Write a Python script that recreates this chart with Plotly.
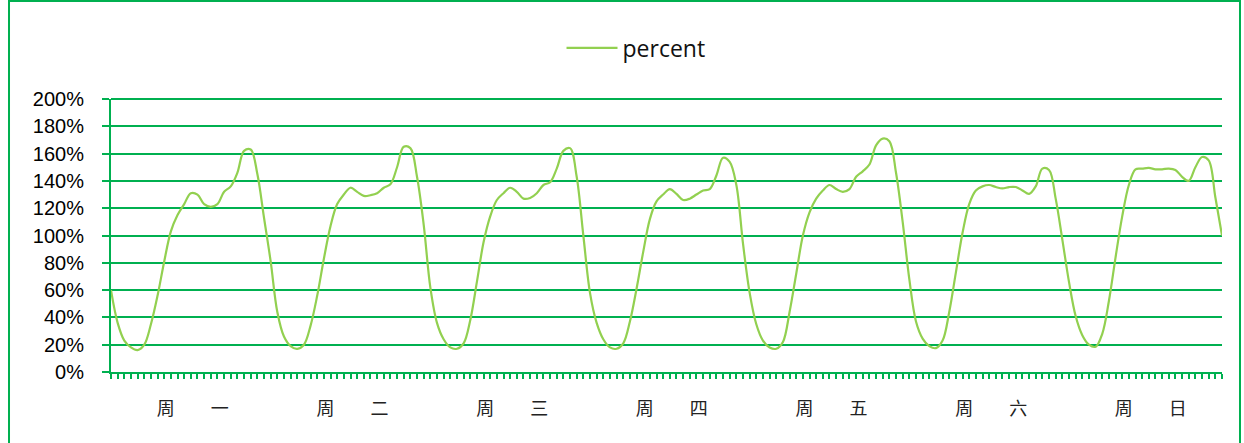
import plotly.graph_objects as go

# Hourly load ratio over one week (7 days x 24 hours), in percent
day_labels = ["周\u3000\u3000一", "周\u3000\u3000二", "周\u3000\u3000三", "周\u3000\u3000四",
              "周\u3000\u3000五", "周\u3000\u3000六", "周\u3000\u3000日"]

mon = [60, 36, 23, 18, 16, 20, 35, 56, 81, 103, 115, 123,
       131, 130, 123, 121, 123, 132, 136, 146, 162, 163, 145, 113]
tue = [81, 44, 26, 19, 17, 20, 34, 56, 83, 107, 123, 130,
       135, 132, 129, 129.5, 131, 135, 137.5, 150, 165, 164, 143, 108]
wed = [62, 36, 24, 18, 17, 21, 38, 66, 95, 114, 126, 131,
       135, 132, 127, 127.5, 131, 137, 139, 149, 162, 164, 143, 100]
thu = [58, 36, 24, 18, 17, 21, 37, 61, 88, 112, 125, 130,
       134, 130.5, 126, 127, 130, 133, 134, 144, 157, 154, 137, 94]
fri = [58, 35, 23, 18, 17, 22, 44, 72, 100, 117, 127, 133,
       137, 134, 132, 134, 143, 147, 152, 166, 171, 169, 146, 110]
sat = [68, 37, 24.5, 19, 17.5, 23, 44, 73, 102, 123, 133, 136,
       137, 135.5, 134.5, 135.5, 135.5, 133, 130.5, 136, 149, 148, 127, 97]
sun = [66, 41, 27, 20, 18.5, 28, 52, 84, 114, 137, 148.5, 149,
       149.5, 148.5, 148.5, 149, 148, 143, 140, 150, 157.5, 155, 128, 100]

percent = mon + tue + wed + thu + fri + sat + sun
hours = list(range(len(percent)))
day_centers = [24 * d + 12.3 for d in range(7)]
y_max = 200

GRID = "#00B050"
LINE = "#92D050"

fig = go.Figure()
fig.add_trace(go.Scatter(
    x=hours, y=percent, name="percent", mode="lines",
    line=dict(color=LINE, width=2.2, shape="spline", smoothing=1.0),
    showlegend=True,
))

fig.update_layout(
    width=1244, height=443,
    margin=dict(l=111, r=22, t=99, b=71),
    paper_bgcolor="white", plot_bgcolor="white",
    showlegend=True,
    legend=dict(
        orientation="h", x=0.4055, xanchor="left", y=1.187, yanchor="middle",
        font=dict(family="Open Sans", size=23, color="#111111"),
        itemwidth=51, bgcolor="rgba(0,0,0,0)",
    ),
    xaxis=dict(
        range=[0, 167], showgrid=False, zeroline=False,
        showline=True, linecolor=GRID, linewidth=2,
        tickmode="array", tickvals=day_centers, ticktext=day_labels,
        ticks="", ticklabelstandoff=19,
        tickfont=dict(family="Noto Sans CJK SC", size=18, color="#222222"),
        minor=dict(ticks="outside", tick0=0, dtick=1, ticklen=5,
                   tickwidth=1.5, tickcolor=GRID, showgrid=False),
    ),
    yaxis=dict(
        range=[0, y_max], dtick=20, tick0=0, ticksuffix="%",
        showgrid=True, gridcolor=GRID, gridwidth=2,
        zeroline=False, showline=True, linecolor=GRID, linewidth=2,
        ticks="outside", ticklen=7, tickwidth=2, tickcolor=GRID,
        ticklabelstandoff=14,
        tickfont=dict(family="Liberation Sans", size=20, color="#000000"),
    ),
    shapes=[
        # outer chart border
        dict(type="rect", xref="paper", yref="paper",
             x0=-0.0918, x1=1.0162, y0=-0.35, y1=1.359,
             line=dict(color=GRID, width=2), fillcolor="rgba(0,0,0,0)",
             layer="below"),
        # gridline along the top edge of the plot (value axis maximum)
        dict(type="line", xref="paper", yref="paper",
             x0=0, x1=1, y0=1, y1=1,
             line=dict(color=GRID, width=2), layer="above"),
    ],
)

fig.write_html("out.html")
